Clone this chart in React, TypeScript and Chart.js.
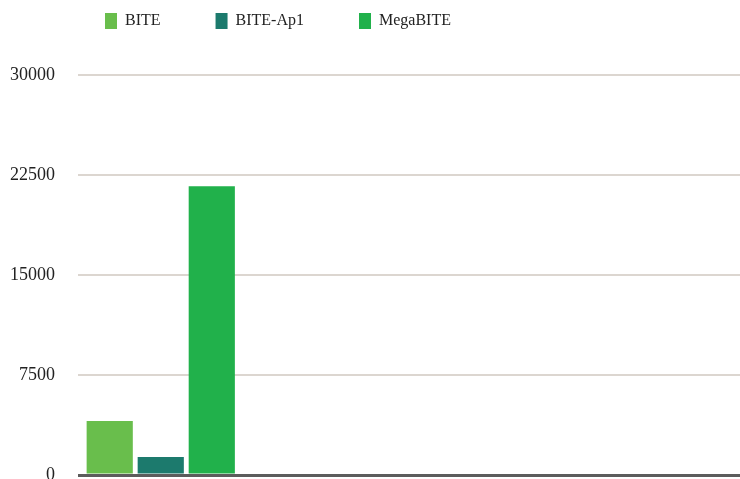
import React, { useEffect, useRef } from "react";
import { Chart, registerables } from "chart.js";

Chart.register(...registerables);

const categories = ["", "", "", ""];
const seriesNames = ["BITE", "BITE-Ap1", "MegaBITE"];
const biteValues = [4050, null, null, null];
const biteAp1Values = [1350, null, null, null];
const megaBiteValues = [21650, null, null, null];
const seriesColors = ["#69be4c", "#1c7a6d", "#21b14b"];
const yTicks = [0, 7500, 15000, 22500, 30000];

const legendShift = {
  id: "legendShift",
  afterLayout(chart: any) {
    const l = chart.legend;
    if (!l) return;
    l.left = 50;
    l.right = 3000;
    l.top = 13 - 55;
  },
};

export default function App() {
  const ref = useRef<HTMLCanvasElement | null>(null);

  useEffect(() => {
    if (!ref.current) return;
    const chart = new Chart(ref.current, {
      type: "bar",
      data: {
        labels: categories,
        datasets: [
          { label: seriesNames[0], data: biteValues, backgroundColor: seriesColors[0] },
          { label: seriesNames[1], data: biteAp1Values, backgroundColor: seriesColors[1] },
          { label: seriesNames[2], data: megaBiteValues, backgroundColor: seriesColors[2] },
        ],
      },
      options: {
        responsive: false,
        animation: false,
        devicePixelRatio: 1,
        layout: { padding: { left: 10, right: 0, top: 0, bottom: 15 } },
        datasets: { bar: { categoryPercentage: 0.925, barPercentage: 0.905 } },
        plugins: {
          legend: {
            position: "top",
            align: "start",
            maxHeight: 75,
            labels: {
              boxWidth: 12,
              boxHeight: 16,
              padding: 55,
              color: "#222",
              font: { family: "'Liberation Serif', 'Times New Roman', serif", size: 16 },
            },
          },
          tooltip: { enabled: false },
        },
        scales: {
          x: { display: false },
          y: {
            min: 0,
            max: 30000,
            afterBuildTicks(axis: any) {
              axis.ticks = yTicks.map((v) => ({ value: v }));
            },
            border: { display: false },
            grid: {
              drawTicks: true,
              tickLength: 23,
              tickColor: "rgba(0,0,0,0)",
              color: (c: any) => (c.tick && c.tick.value === 0 ? "#5c5c5c" : "#dcd6d0"),
              lineWidth: (c: any) => (c.tick && c.tick.value === 0 ? 3 : 2),
            },
            ticks: {
              padding: 0,
              color: "#222",
              font: { family: "'Liberation Serif', 'Times New Roman', serif", size: 18 },
              callback: (v: any) => String(v),
            },
          },
        },
      },
      plugins: [legendShift],
    });
    return () => chart.destroy();
  }, []);

  return (
    <div style={{ position: "fixed", left: 0, top: 0, width: 740, height: 479, overflow: "hidden", background: "#fff" }}>
      <canvas ref={ref} width={740} height={490} style={{ display: "block" }} />
    </div>
  );
}
